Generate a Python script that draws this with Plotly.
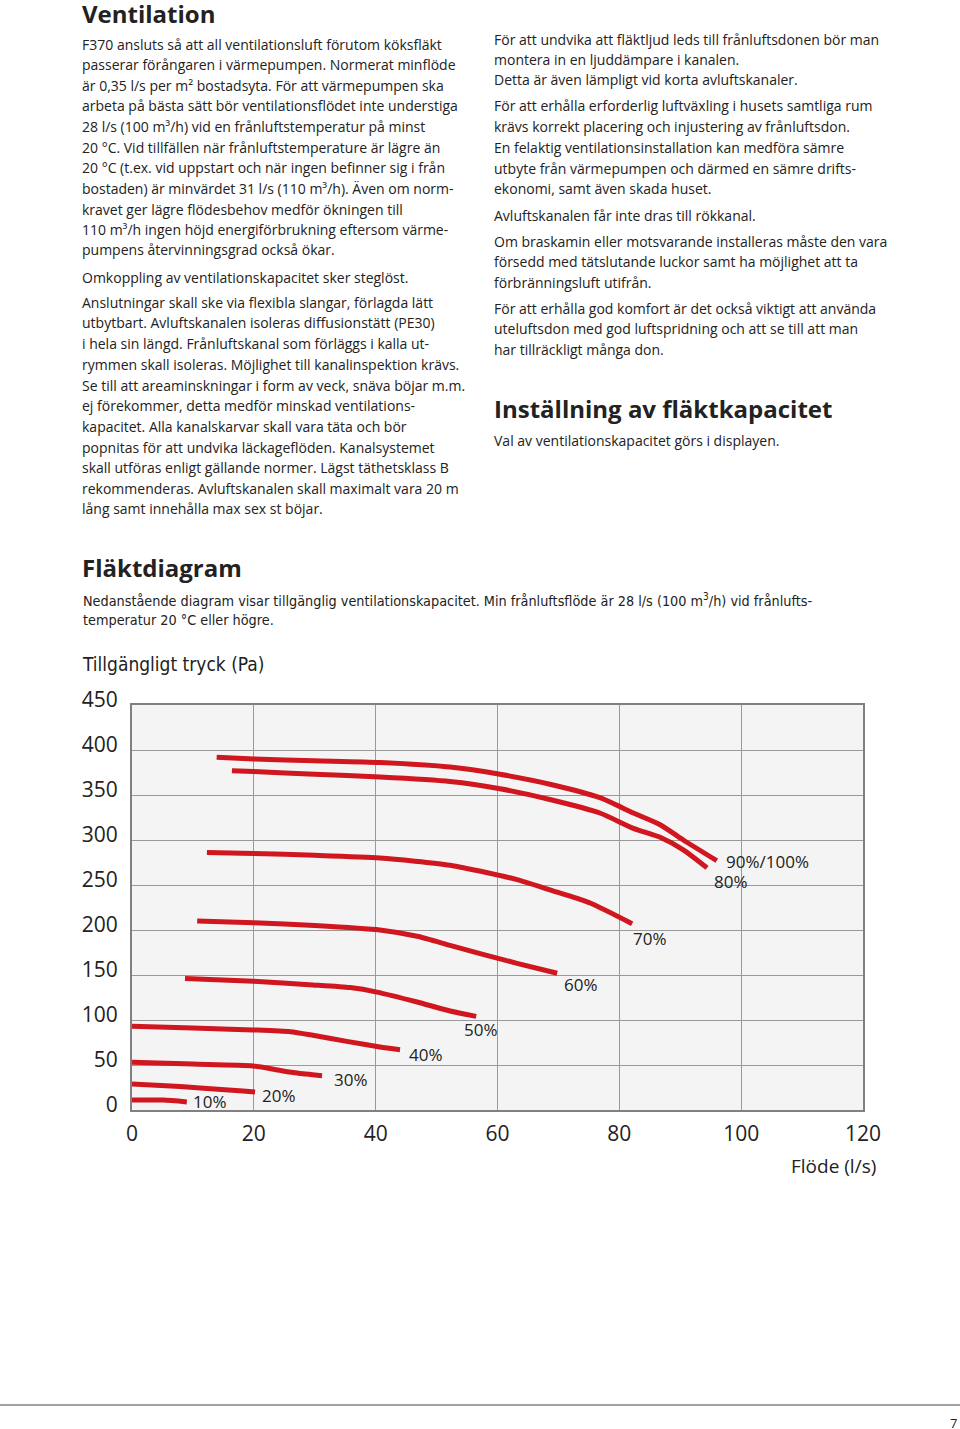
import plotly.graph_objects as go

# ---------------- data ----------------
series_names = ["90%/100%", "80%", "70%", "60%", "50%", "40%", "30%", "20%", "10%"]
flow_90 = [13.9, 20, 30, 40.7, 52.2, 60.4, 68.6, 76.8, 82.3, 86.7, 90.5, 96]
pres_90 = [392, 390, 388, 386, 381, 373, 362, 347, 330, 317, 300, 277]
flow_80 = [16.4, 20, 30, 40.7, 52.2, 60.4, 68.6, 76.8, 82.3, 86.7, 90.5, 94.4]
pres_80 = [377, 376, 373, 370, 365, 357, 345, 330, 313, 303, 289, 269]
flow_70 = [12.3, 20, 30, 40.7, 52.2, 63.2, 69.8, 75.2, 82.1]
pres_70 = [286, 285, 283, 280, 272, 256, 242, 230, 207]
flow_60 = [10.7, 20, 30, 40.7, 46.8, 52.2, 57.6, 63.2, 69.8]
pres_60 = [210, 208, 205, 200, 193, 183, 173, 163, 152]
flow_50 = [8.7, 20, 29.7, 35.8, 40.2, 46.8, 52.2, 56.5]
pres_50 = [146, 143, 139, 136, 131, 120, 110, 104]
flow_40 = [0, 10, 19.9, 26, 29.7, 35.5, 40.7, 44]
pres_40 = [93, 91, 89, 87, 83, 76, 70, 67]
flow_30 = [0, 10, 19.9, 24.3, 27.1, 31.2]
pres_30 = [53, 51, 49, 44, 41, 38]
flow_20 = [0, 7.9, 18.2, 20.2]
pres_20 = [29, 26, 21, 20]
flow_10 = [0, 5.1, 9]
pres_10 = [11, 11, 9]

label_x = [97.2, 95.2, 81.9, 70.6, 54.2, 45.1, 32.8, 21.0, 9.7]
label_y = [275.6, 254.4, 191, 140, 88.9, 62.2, 34.4, 15.6, 10]

x_ticks = [0, 20, 40, 60, 80, 100, 120]
y_ticks = [0, 50, 100, 150, 200, 250, 300, 350, 400, 450]

left_col = [
    "F370 ansluts så att all ventilationsluft förutom köksfläkt",
    "passerar förångaren i värmepumpen. Normerat minflöde",
    "är 0,35 l/s per m² bostadsyta. För att värmepumpen ska",
    "arbeta på bästa sätt bör ventilationsflödet inte understiga",
    "28 l/s (100 m³/h) vid en frånluftstemperatur på minst",
    "20 °C. Vid tillfällen när frånluftstemperature är lägre än",
    "20 °C (t.ex. vid uppstart och när ingen befinner sig i från",
    "bostaden) är minvärdet 31 l/s (110 m³/h). Även om norm-",
    "kravet ger lägre flödesbehov medför ökningen till",
    "110 m³/h ingen höjd energiförbrukning eftersom värme-",
    "pumpens återvinningsgrad också ökar.",
    "Omkoppling av ventilationskapacitet sker steglöst.",
    "Anslutningar skall ske via flexibla slangar, förlagda lätt",
    "utbytbart. Avluftskanalen isoleras diffusionstätt (PE30)",
    "i hela sin längd. Frånluftskanal som förläggs i kalla ut-",
    "rymmen skall isoleras. Möjlighet till kanalinspektion krävs.",
    "Se till att areaminskningar i form av veck, snäva böjar m.m.",
    "ej förekommer, detta medför minskad ventilations-",
    "kapacitet. Alla kanalskarvar skall vara täta och bör",
    "popnitas för att undvika läckageflöden. Kanalsystemet",
    "skall utföras enligt gällande normer. Lägst täthetsklass B",
    "rekommenderas. Avluftskanalen skall maximalt vara 20 m",
    "lång samt innehålla max sex st böjar.",
]
left_y = [44, 64.5, 85, 105.5, 126, 147, 167.5, 188, 209, 229.5, 250,
          277, 302, 323, 343.5, 364, 385, 405.5, 426, 447, 467.5, 488, 509]

right_col = [
    "För att undvika att fläktljud leds till frånluftsdonen bör man",
    "montera in en ljuddämpare i kanalen.",
    "Detta är även lämpligt vid korta avluftskanaler.",
    "För att erhålla erforderlig luftväxling i husets samtliga rum",
    "krävs korrekt placering och injustering av frånluftsdon.",
    "En felaktig ventilationsinstallation kan medföra sämre",
    "utbyte från värmepumpen och därmed en sämre drifts-",
    "ekonomi, samt även skada huset.",
    "Avluftskanalen får inte dras till rökkanal.",
    "Om braskamin eller motsvarande installeras måste den vara",
    "försedd med tätslutande luckor samt ha möjlighet att ta",
    "förbränningsluft utifrån.",
    "För att erhålla god komfort är det också viktigt att använda",
    "uteluftsdon med god luftspridning och att se till att man",
    "har tillräckligt många don.",
]
right_y = [39, 59.5, 80, 106, 126.5, 147, 168, 188.5, 215, 241, 261.5, 282, 308, 328.5, 349.5]

# ---------------- figure ----------------
W, H = 960, 1429
PL, PR, PT, PB = 132, 863, 705, 1110

def px(x):
    return (x - PL) / (PR - PL)

def py(y):
    return (PB - y) / (PB - PT)

BODY = "Open Sans, Noto Sans, sans-serif"
NARROW = "Liberation Sans Narrow, DejaVu Sans Condensed, Open Sans, sans-serif"
RED = "#d0161e"
TXT = "#222222"

fig = go.Figure()
flows = [flow_90, flow_80, flow_70, flow_60, flow_50, flow_40, flow_30, flow_20, flow_10]
press = [pres_90, pres_80, pres_70, pres_60, pres_50, pres_40, pres_30, pres_20, pres_10]
for name, fx, fy in zip(series_names, flows, press):
    fig.add_trace(go.Scatter(x=fx, y=fy, mode="lines", name=name,
                             line=dict(color=RED, width=5, shape="spline", smoothing=0.6),
                             showlegend=False, hoverinfo="skip"))

annotations = []
for name, lx, ly in zip(series_names, label_x, label_y):
    annotations.append(dict(x=lx, y=ly, xref="x", yref="y", text=name, showarrow=False,
                            xanchor="left", yanchor="middle",
                            font=dict(family=BODY, size=17, color=TXT)))

def text(x, y, s, size=14, family=BODY, anchor="left", color=TXT):
    annotations.append(dict(x=px(x), y=py(y), xref="paper", yref="paper", text=s,
                            showarrow=False, xanchor=anchor, yanchor="middle",
                            font=dict(family=family, size=size, color=color)))

text(80, 13, "<b>Ventilation</b>", size=24)
for s, y in zip(left_col, left_y):
    text(80, y, s)
for s, y in zip(right_col, right_y):
    text(492, y, s)
text(492, 408, "<b>Inställning av fläktkapacitet</b>", size=24)
text(492, 440, "Val av ventilationskapacitet görs i displayen.")
text(80, 567, "<b>Fläktdiagram</b>", size=24)
text(81, 600, "Nedanstående diagram visar tillgänglig ventilationskapacitet. Min frånluftsflöde är 28 l/s (100 m<sup>3</sup>/h) vid frånlufts-",
     size=14.3, family=NARROW)
text(81, 620, "temperatur 20 °C eller högre.", size=14.3, family=NARROW)
text(80, 664, "Tillgängligt tryck (Pa)", size=19, family=NARROW)
text(878, 1166, "Flöde (l/s)", size=19, anchor="right")
text(959, 1423, "7", size=13, anchor="right")

shapes = [dict(type="line", xref="paper", yref="paper", x0=px(0), x1=px(960),
               y0=py(1405), y1=py(1405), line=dict(color="#444", width=1))]

fig.update_layout(
    width=W, height=H, autosize=False,
    margin=dict(l=PL, r=W - PR, t=PT, b=H - PB, pad=0),
    paper_bgcolor="white", plot_bgcolor="#f4f4f4",
    annotations=annotations, shapes=shapes,
    xaxis=dict(range=[0, 120], tickvals=x_ticks, ticktext=[str(v) for v in x_ticks],
               showgrid=True, gridcolor="#9a9a9a", gridwidth=1, zeroline=False,
               showline=True, linecolor="#808080", linewidth=2, mirror=True,
               ticks="", ticklabelstandoff=4, automargin=False,
               tickfont=dict(family=BODY, size=21, color=TXT), fixedrange=True),
    yaxis=dict(range=[0, 450], tickvals=y_ticks, ticktext=[str(v) for v in y_ticks],
               showgrid=True, gridcolor="#9a9a9a", gridwidth=1, zeroline=False,
               showline=True, linecolor="#808080", linewidth=2, mirror=True,
               ticks="", ticklabelstandoff=8, ticklabelshift=-5, automargin=False,
               tickfont=dict(family=BODY, size=21, color=TXT), fixedrange=True),
)

fig.write_html("out.html", config={"displayModeBar": False},
               post_script="document.body.style.margin='0';document.body.style.overflow='hidden';")
